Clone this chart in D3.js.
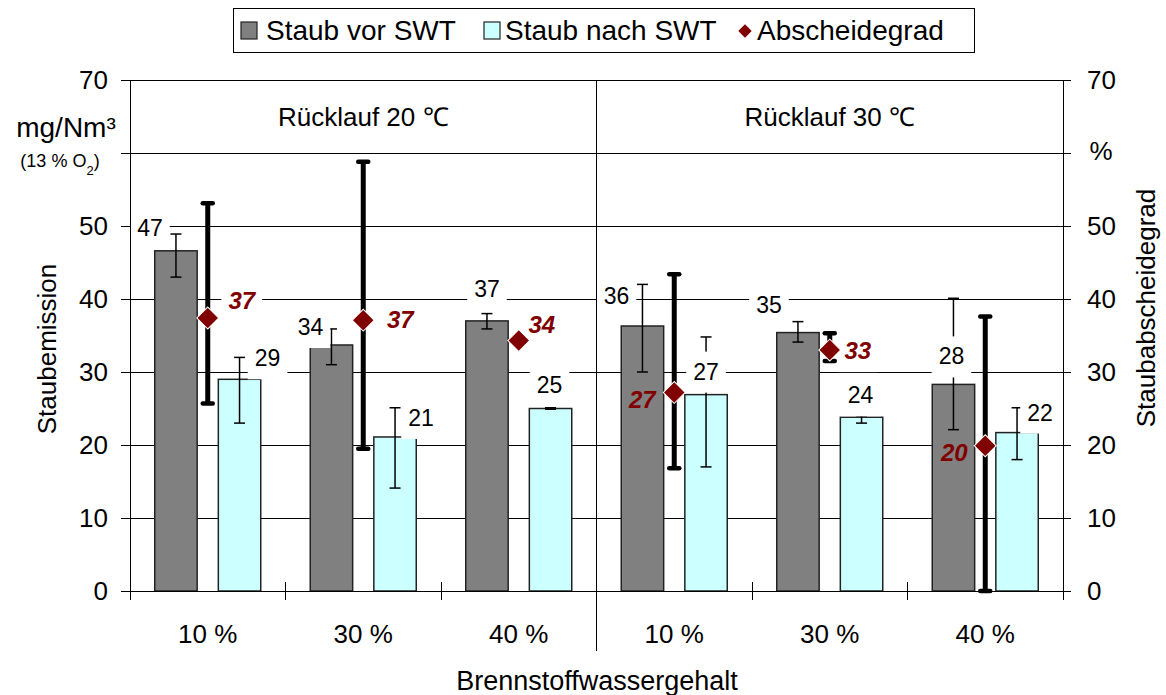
<!DOCTYPE html>
<html>
<head>
<meta charset="utf-8">
<script src="https://cdn.jsdelivr.net/npm/d3@7"></script>
<style>
  body { margin: 0; background: #fff; }
  svg text { font-family: "Liberation Sans", Arial, sans-serif; fill: #000; }
  .crisp line, .crisp path, .crisp rect { shape-rendering: crispEdges; }
</style>
</head>
<body>
<svg id="chart" width="1166" height="695"></svg>
<script>
// data
var categories = ['10 %', '30 %', '40 %', '10 %', '30 %', '40 %'];
var groupLabels = ['Rücklauf 20 ℃', 'Rücklauf 30 ℃'];
var seriesNames = ['Staub vor SWT', 'Staub nach SWT', 'Abscheidegrad'];
var staubVor = [46.6, 33.7, 37.0, 36.3, 35.4, 28.3];
var staubVorErr = [[43.0, 48.9], [31.0, 35.9], [35.9, 38.0], [30.0, 42.0], [34.1, 36.9], [22.1, 40.1]];
var staubNach = [29.0, 21.1, 25.0, 26.9, 23.8, 21.7];
var staubNachErr = [[23.0, 32.0], [14.1, 25.1], [24.9, 25.1], [17.0, 34.8], [23.0, 24.0], [18.0, 25.1]];
var abscheidegrad = [37.4, 37.1, 34.3, 27.2, 33.0, 19.9];
var abscheidegradErr = [[25.7, 53.1], [19.5, 58.8], null, [16.8, 43.4], [31.5, 35.3], [0, 37.6]];
var yTicks = [0, 10, 20, 30, 40, 50, 60, 70];

// hand placed label nudges (dx, dy from the point), like in the original
var vorLabelOff = [[-26, -23], [-21, -18], [0, -32], [-26, -30], [-29, -28], [-2, -28]];
var nachLabelOff = [[28, -21], [26, -19], [-1, -24], [0, -23], [-1, -22], [23, -20]];
var gradLabelOff = [[34, -17], [37, 0], [23, -16], [-32, 8], [28, 1], [-31, 7]];

var colVor = '#808080', colNach = '#ccffff', colGrad = '#800000';
var plotL = 130, plotR = 1063, plotT = 80, plotB = 591;

var svg = d3.select('#chart');
var fmt = d3.format('.0f');

var x = d3.scaleBand().domain(d3.range(categories.length)).range([plotL, plotR]).padding(0);
var xs = d3.scaleBand().domain(['vor', 'nach']).range([-53, 53]).paddingInner(0.333);
var y = d3.scaleLinear().domain([0, 70]).range([plotB, plotT]);

function cx(i) { return x(i) + x.bandwidth() / 2; }
function barX(i, key) { return cx(i) + xs(key); }
function barMid(i, key) { return barX(i, key) + xs.bandwidth() / 2; }

// grid
svg.append('g').attr('class', 'crisp').selectAll('line')
  .data(yTicks.filter(function(d) { return d > 0; }))
  .enter().append('line')
  .attr('x1', plotL).attr('x2', plotR)
  .attr('y1', function(d) { return y(d); }).attr('y2', function(d) { return y(d); })
  .attr('stroke', '#000').attr('stroke-width', 1);

svg.append('g').selectAll('text')
  .data(groupLabels)
  .enter().append('text')
  .attr('x', function(d, i) { return plotL + (i * 3 + 1.5) * x.bandwidth(); })
  .attr('y', y(65) + 9)
  .attr('text-anchor', 'middle')
  .style('font-size', '26px')
  .text(function(d) { return d; });

// label helper: text with white box behind it
function addLabel(bgLayer, fgLayer, tx, ty, str, style) {
  var t = fgLayer.append('text')
    .attr('x', tx).attr('y', ty + 8)
    .attr('text-anchor', 'middle')
    .style('font-size', style.size)
    .style('font-weight', style.weight || 'normal')
    .style('font-style', style.italic ? 'italic' : 'normal')
    .style('fill', style.color || '#000')
    .text(str);
  var w = t.node().getComputedTextLength() + 14;
  bgLayer.append('rect')
    .attr('x', tx - w / 2).attr('y', ty - 20)
    .attr('width', w).attr('height', 41)
    .attr('fill', '#fff');
}

var gradBg = svg.append('g');

// bars
var bars = svg.append('g');
bars.selectAll('.vor')
  .data(staubVor)
  .enter().append('rect')
  .attr('x', function(d, i) { return barX(i, 'vor'); })
  .attr('y', function(d) { return y(d); })
  .attr('width', xs.bandwidth())
  .attr('height', function(d) { return plotB - y(d); })
  .attr('fill', colVor).attr('stroke', '#222').attr('stroke-width', 1.5);
bars.selectAll('.nach')
  .data(staubNach)
  .enter().append('rect')
  .attr('x', function(d, i) { return barX(i, 'nach'); })
  .attr('y', function(d) { return y(d); })
  .attr('width', xs.bandwidth())
  .attr('height', function(d) { return plotB - y(d); })
  .attr('fill', colNach).attr('stroke', '#222').attr('stroke-width', 1.5);

// thin error bars on the bars
function thinErr(data, key) {
  var g = svg.append('g').attr('stroke', '#000').attr('stroke-width', 1.5);
  data.forEach(function(e, i) {
    var mx = barMid(i, key);
    g.append('line').attr('x1', mx).attr('x2', mx).attr('y1', y(e[0])).attr('y2', y(e[1]));
    e.forEach(function(v) {
      g.append('line').attr('x1', mx - 5.5).attr('x2', mx + 5.5).attr('y1', y(v)).attr('y2', y(v));
    });
  });
}
thinErr(staubVorErr, 'vor');
thinErr(staubNachErr, 'nach');

// thick error bars of the separation degree
var ge = svg.append('g').attr('stroke', '#000');
abscheidegradErr.forEach(function(e, i) {
  if (!e) return;
  ge.append('line').attr('x1', cx(i)).attr('x2', cx(i))
    .attr('y1', y(e[0])).attr('y2', y(e[1])).attr('stroke-width', 5);
  e.forEach(function(v) {
    ge.append('line').attr('x1', cx(i) - 5).attr('x2', cx(i) + 5)
      .attr('y1', y(v)).attr('y2', y(v))
      .attr('stroke-width', 4.5).attr('stroke-linecap', 'round');
  });
});

svg.append('g').selectAll('path')
  .data(abscheidegrad)
  .enter().append('path')
  .attr('d', d3.symbol(d3.symbolSquare, 240))
  .attr('transform', function(d, i) { return 'translate(' + cx(i) + ',' + y(d) + ') rotate(45)'; })
  .attr('fill', colGrad).attr('stroke', '#fff').attr('stroke-width', 1);

// value labels
var lblBg = svg.append('g');
var lblFg = svg.append('g');
staubVor.forEach(function(v, i) {
  addLabel(lblBg, lblFg, barMid(i, 'vor') + vorLabelOff[i][0], y(v) + vorLabelOff[i][1], fmt(v), { size: '23px' });
});
staubNach.forEach(function(v, i) {
  addLabel(lblBg, lblFg, barMid(i, 'nach') + nachLabelOff[i][0], y(v) + nachLabelOff[i][1], fmt(v), { size: '23px' });
});
abscheidegrad.forEach(function(v, i) {
  addLabel(gradBg, lblFg, cx(i) + gradLabelOff[i][0], y(v) + gradLabelOff[i][1], fmt(v),
    { size: '24px', weight: 'bold', italic: true, color: colGrad });
});

// axes on top
var yl = svg.append('g').attr('class', 'crisp').attr('transform', 'translate(' + plotL + ',0)')
  .call(d3.axisLeft(y).tickValues(yTicks).tickSize(9).tickPadding(13)
    .tickFormat(function(d) { return d === 60 ? '' : d; }));
var yr = svg.append('g').attr('class', 'crisp').attr('transform', 'translate(' + plotR + ',0)')
  .call(d3.axisRight(y).tickValues(yTicks).tickSize(8).tickPadding(16)
    .tickFormat(function(d) { return d === 60 ? '' : d; }));
[yl, yr].forEach(function(a) {
  a.select('.domain').attr('stroke', '#000').attr('stroke-width', 1);
  a.selectAll('.tick line').attr('stroke', '#000');
  a.selectAll('.tick text').style('font-size', '26px');
});

var xg = svg.append('g').attr('class', 'crisp');
xg.append('line').attr('x1', plotL).attr('x2', plotR).attr('y1', plotB).attr('y2', plotB)
  .attr('stroke', '#000').attr('stroke-width', 1);
var bounds = d3.range(categories.length + 1).map(function(i) { return plotL + i * x.bandwidth(); });
xg.selectAll('.tk')
  .data(bounds)
  .enter().append('line')
  .attr('x1', function(d) { return d; }).attr('x2', function(d) { return d; })
  .attr('y1', function(d, i) { return i === 3 ? plotT : plotB - 9; })
  .attr('y2', function(d, i) { return i === 3 ? 651 : plotB + 9; })
  .attr('stroke', '#000').attr('stroke-width', 1);

svg.append('g').selectAll('text')
  .data(categories)
  .enter().append('text')
  .attr('x', function(d, i) { return cx(i); })
  .attr('y', 643)
  .attr('text-anchor', 'middle')
  .style('font-size', '26px')
  .text(function(d) { return d; });

// axis titles and units
svg.append('text').attr('transform', 'translate(56,349) rotate(-90)')
  .attr('text-anchor', 'middle').style('font-size', '26px').text('Staubemission');
svg.append('text').attr('transform', 'translate(1155,308) rotate(-90)')
  .attr('text-anchor', 'middle').style('font-size', '26px').text('Staubabscheidegrad');
svg.append('text').attr('x', 597).attr('y', 690)
  .attr('text-anchor', 'middle').style('font-size', '27px').text('Brennstoffwassergehalt');
svg.append('text').attr('x', 66).attr('y', 137)
  .attr('text-anchor', 'middle').style('font-size', '28px').text('mg/Nm³');
var o2 = svg.append('text').attr('x', 60).attr('y', 167)
  .attr('text-anchor', 'middle').style('font-size', '18px');
o2.append('tspan').text('(13 % O');
o2.append('tspan').attr('baseline-shift', 'sub').style('font-size', '13px').text('2');
o2.append('tspan').text(')');
svg.append('text').attr('x', 1101).attr('y', 160)
  .attr('text-anchor', 'middle').style('font-size', '26px').text('%');

// legend
var lg = svg.append('g');
lg.append('rect').attr('x', 233.5).attr('y', 8.5).attr('width', 741).attr('height', 44)
  .attr('fill', '#fff').attr('stroke', '#000').attr('stroke-width', 1);
var legendX = [241, 484, 745];
var legendTextX = [266, 505, 757];
seriesNames.forEach(function(name, i) {
  if (i < 2) {
    lg.append('rect').attr('x', legendX[i]).attr('y', 22).attr('width', 16).attr('height', 17)
      .attr('fill', i === 0 ? colVor : colNach).attr('stroke', '#222').attr('stroke-width', 1.2);
  } else {
    lg.append('path').attr('d', d3.symbol(d3.symbolSquare, 90))
      .attr('transform', 'translate(' + legendX[i] + ',31) rotate(45)')
      .attr('fill', colGrad);
  }
  lg.append('text').attr('x', legendTextX[i]).attr('y', 40)
    .style('font-size', '28px').text(name);
});
</script>
</body>
</html>
